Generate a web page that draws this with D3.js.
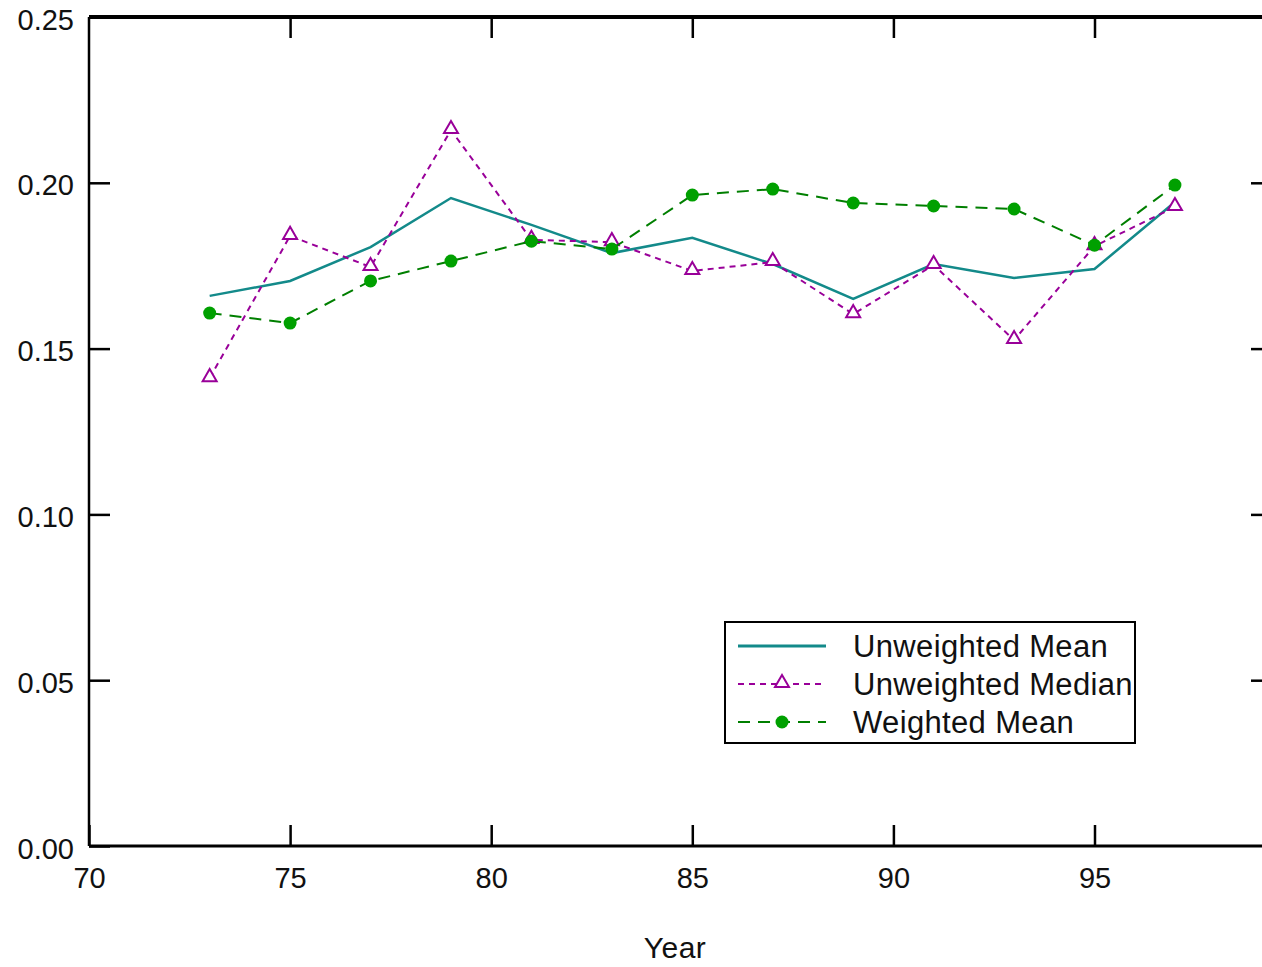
<!DOCTYPE html>
<html>
<head>
<meta charset="utf-8">
<script src="https://cdn.jsdelivr.net/npm/d3@7"></script>
<style>
  body { margin: 0; background: #fff; }
  text { font-family: "Liberation Sans", Arial, sans-serif; fill: #111; }
</style>
</head>
<body>
<div id="chart"></div>
<script>
(function () {
	'use strict';

	var years = [73, 75, 77, 79, 81, 83, 85, 87, 89, 91, 93, 95, 97];
	var unweightedMean = [0.1659, 0.1704, 0.1806, 0.1954, 0.1873, 0.1788, 0.1834, 0.1755, 0.1650, 0.1755, 0.1713, 0.1740, 0.1942];
	var unweightedMedian = [0.1411, 0.1840, 0.1746, 0.2159, 0.1828, 0.1821, 0.1734, 0.1761, 0.1604, 0.1752, 0.1526, 0.1809, 0.1927];
	var weightedMean = [0.1607, 0.1577, 0.1704, 0.1764, 0.1824, 0.1800, 0.1963, 0.1981, 0.1939, 0.1930, 0.1921, 0.1812, 0.1993];
	var xTicks = [70, 75, 80, 85, 90, 95];
	var yTicks = [0, 0.05, 0.10, 0.15, 0.20, 0.25];

	var series = [
		{name: "Unweighted Mean", values: unweightedMean, color: "#138a8a", width: 2.5, dash: null, marker: null},
		{name: "Unweighted Median", values: unweightedMedian, color: "#990099", width: 2, dash: "6,5", marker: "triangle"},
		{name: "Weighted Mean", values: weightedMean, color: "#007f00", width: 2, dash: "12,8", marker: "circle"}
	];

	var W = 1262, H = 967;
	var left = 89, right = 1272, top = 17, bottom = 846;

	var svg = d3.select("#chart").append("svg")
		.attr("width", W)
		.attr("height", H);

	var x = d3.scaleLinear().domain([70, 70 + (right - left) / 40.22]).range([left, right]);
	var y = d3.scaleLinear().domain([0, 0.25]).range([bottom, top]);

	// ticks inward on all four sides
	var tickLen = 21;
	svg.append("g")
		.attr("transform", "translate(0," + bottom + ")")
		.call(d3.axisBottom(x).tickValues(xTicks).tickSize(-tickLen).tickFormat(d3.format("d")).tickPadding(21))
		.call(function(g){
			g.select(".domain").remove();
			g.selectAll("line").attr("stroke", "#000").attr("stroke-width", 2.5);
			g.selectAll("text").attr("font-size", 29).attr("fill", "#111");
		});
	svg.append("g")
		.attr("transform", "translate(0," + top + ")")
		.call(d3.axisTop(x).tickValues(xTicks.slice(1)).tickSize(-tickLen).tickFormat(""))
		.call(function(g){
			g.select(".domain").remove();
			g.selectAll("line").attr("stroke", "#000").attr("stroke-width", 2.5);
		});
	svg.append("g")
		.attr("transform", "translate(" + left + ",0)")
		.call(d3.axisLeft(y).tickValues(yTicks).tickSize(-tickLen).tickFormat(d3.format(".2f")).tickPadding(15))
		.call(function(g){
			g.select(".domain").remove();
			g.selectAll("line").attr("stroke", "#000").attr("stroke-width", 2.5);
			g.selectAll("text").attr("font-size", 29).attr("fill", "#111").attr("dy", "0.42em");
		});
	svg.append("g")
		.attr("transform", "translate(" + right + ",0)")
		.call(d3.axisRight(y).tickValues(yTicks.slice(1, 5)).tickSize(-tickLen).tickFormat(""))
		.call(function(g){
			g.select(".domain").remove();
			g.selectAll("line").attr("stroke", "#000").attr("stroke-width", 2.5);
		});

	// frame
	svg.append("line").attr("x1", left).attr("x2", right).attr("y1", top).attr("y2", top)
		.attr("stroke", "#000").attr("stroke-width", 4);
	svg.append("line").attr("x1", left).attr("x2", right).attr("y1", bottom).attr("y2", bottom)
		.attr("stroke", "#000").attr("stroke-width", 3);
	svg.append("line").attr("x1", left).attr("x2", left).attr("y1", top).attr("y2", bottom)
		.attr("stroke", "#000").attr("stroke-width", 2.5);

	svg.append("text")
		.attr("x", 675).attr("y", 958)
		.attr("text-anchor", "middle")
		.attr("font-size", 30)
		.attr("letter-spacing", 0.5)
		.text("Year");

	var line = d3.line()
		.x(function(d){ return x(d.year); })
		.y(function(d){ return y(d.value); });

	var triangle = d3.symbol().type(d3.symbolTriangle).size(85);

	function drawMarker(sel, s) {
		if (s.marker === "circle") {
			sel.append("circle").attr("r", 6.5).attr("fill", "#00a000");
		} else if (s.marker === "triangle") {
			sel.append("path").attr("d", triangle)
				.attr("transform", "translate(0,-1)")
				.attr("fill", "#fff").attr("stroke", s.color).attr("stroke-width", 2);
		}
	}

	series.forEach(function(s){
		var pts = years.map(function(yr, i){ return {year: yr, value: s.values[i]}; });
		svg.append("path")
			.datum(pts)
			.attr("d", line)
			.attr("fill", "none")
			.attr("stroke", s.color)
			.attr("stroke-width", s.width)
			.attr("stroke-dasharray", s.dash);
		svg.selectAll(null)
			.data(pts)
			.enter()
			.append("g")
			.attr("transform", function(d){ return "translate(" + x(d.year) + "," + y(d.value) + ")"; })
			.each(function(){ drawMarker(d3.select(this), s); });
	});

	// legend
	var lg = svg.append("g").attr("transform", "translate(725,622)");
	lg.append("rect").attr("width", 410).attr("height", 121)
		.attr("fill", "#fff").attr("stroke", "#000").attr("stroke-width", 2);
	series.forEach(function(s, i){
		var ly = 24 + i * 38;
		lg.append("line")
			.attr("x1", 13).attr("x2", 101).attr("y1", ly).attr("y2", ly)
			.attr("stroke", s.color)
			.attr("stroke-width", s.marker ? 2 : 3)
			.attr("stroke-dasharray", s.dash);
		var m = lg.append("g").attr("transform", "translate(57," + ly + ")");
		drawMarker(m, s);
		lg.append("text")
			.attr("x", 128).attr("y", ly + 11)
			.attr("font-size", 31)
			.attr("letter-spacing", 0.35)
			.text(s.name);
	});
}());
</script>
</body>
</html>
